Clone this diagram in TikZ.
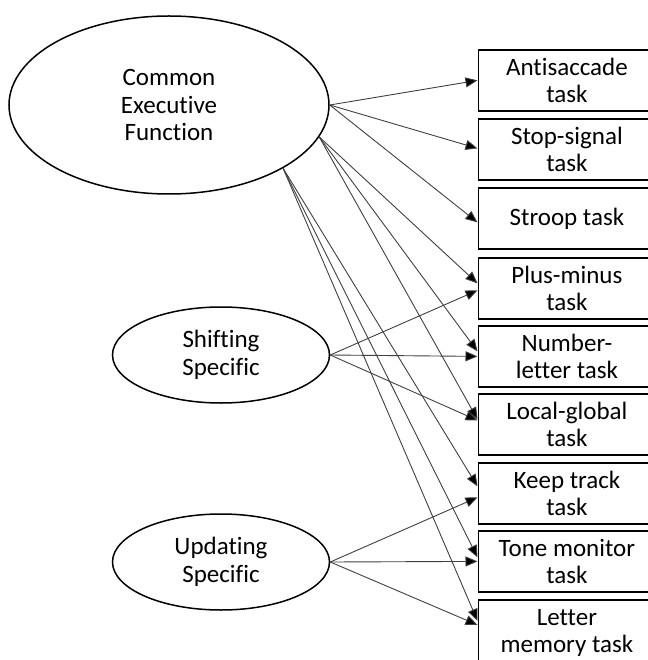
\documentclass[tikz,border=0pt]{standalone}
\usepackage{fontspec}
\setmainfont{Carlito}[Ligatures=NoCommon]
\usetikzlibrary{arrows.meta,shapes.geometric}
\begin{document}
\begin{tikzpicture}[x=1pt,y=-1pt,
  factor/.style={ellipse,draw,line width=1.5pt,inner sep=0pt,align=center,
    font=\fontsize{25}{27.5}\selectfont},
  taskbox/.style={rectangle,draw,line width=1.8pt,minimum width=177pt,
    minimum height=61pt,inner sep=0pt,align=center,anchor=north west,
    font=\fontsize{25}{27}\selectfont},
  load/.style={draw=black!75,line width=0.9pt,
    -{Triangle[length=12pt,width=10pt,fill=black]}}]
\useasboundingbox (0,0) rectangle (647,660);

% latent factors
\node[factor,minimum width=320pt,minimum height=178pt] (cef) at (169,105)
  {Common\\Executive\\Function};
\node[factor,minimum width=217pt,minimum height=96pt] (shi) at (221,355)
  {Shifting\\Specific};
\node[factor,minimum width=217pt,minimum height=96pt] (upd) at (221,562)
  {Updating\\Specific};

% observed tasks
\node[taskbox] (anti) at (477.5,49)  {Antisaccade\\task};
\node[taskbox] (stop) at (477.5,118) {Stop-signal\\task};
\node[taskbox] (strp) at (477.5,187) {Stroop task};
\node[taskbox] (plus) at (477.5,257) {Plus-minus\\task};
\node[taskbox] (numl) at (477.5,325) {Number-\\letter task};
\node[taskbox] (locg) at (477.5,393) {Local-global\\task};
\node[taskbox] (keep) at (477.5,462) {Keep track\\task};
\node[taskbox] (tone) at (477.5,530) {Tone monitor\\task};
\node[taskbox,minimum height=66pt] (letm) at (477.5,599) {Letter\\memory task};

% loadings of the common factor
\draw[load] (cef.east) -- (anti.west);
\draw[load] (cef.east) -- ([yshift=1pt]stop.west);
\draw[load] (cef.east) -- ([yshift=-4pt]strp.west);
\draw[load] (cef.-12) -- ([yshift=5pt]plus.west);
\draw[load] (cef.-12) -- ([yshift=5pt]numl.west);
\draw[load] (cef.-12) -- ([yshift=5pt]locg.west);
\draw[load] (cef.-29) -- ([yshift=7pt]keep.west);
\draw[load] (cef.-29) -- ([yshift=4pt]tone.west);
\draw[load] (cef.-29) -- ([yshift=12pt]letm.west);

% loadings of the shifting-specific factor
\draw[load] (shi.east) -- ([yshift=-2pt]plus.west);
\draw[load] (shi.east) -- (numl.west);
\draw[load] (shi.east) -- ([yshift=4pt]locg.west);

% loadings of the updating-specific factor
\draw[load] (upd.east) -- ([yshift=-4pt]keep.west);
\draw[load] (upd.east) -- (tone.west);
\draw[load] (upd.east) -- ([yshift=8pt]letm.west);
\end{tikzpicture}
\end{document}
